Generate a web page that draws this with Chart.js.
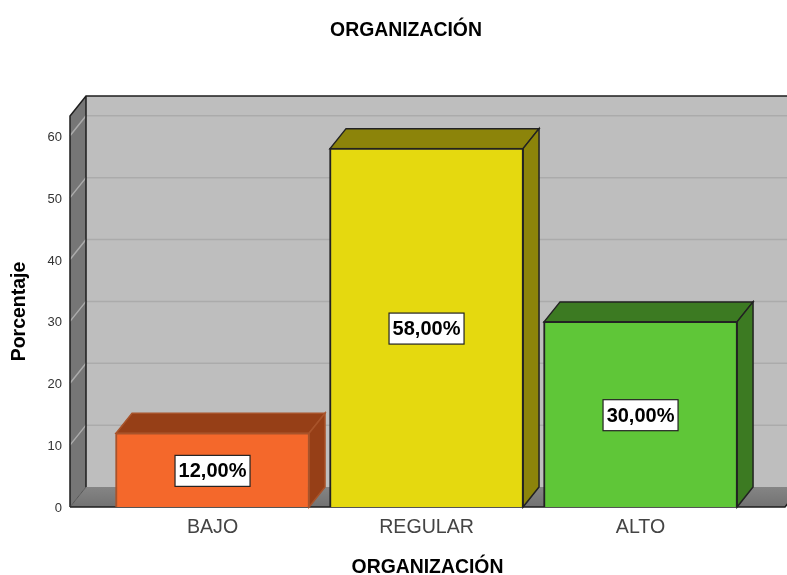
<!DOCTYPE html>
<html><head><meta charset="utf-8">
<style>html,body{margin:0;padding:0;background:#fff}canvas{display:block}</style>
<script src="https://cdn.jsdelivr.net/npm/chart.js@4"></script>
</head><body><canvas id="c" width="787" height="575"></canvas>
<script>
const categories = ['BAJO', 'REGULAR', 'ALTO'];
const percentages = [12, 58, 30];
const frontColors = ['#F4682B', '#E5D90F', '#5FC638'];
const shadeColors = ['#963F17', '#8C840A', '#3C7A22'];
const edgeColors = ['#A8532A', '#222222', '#222222'];
const yTicks = [0, 10, 20, 30, 40, 50, 60];
const chartTitle = 'ORGANIZACIÓN';
const yTitle = 'Porcentaje';
const DX = 16, DY = 20;
const FONT = '"Liberation Sans", Arial, sans-serif';

function poly(ctx, pts, fill, stroke, lw) {
  ctx.beginPath();
  pts.forEach((p, i) => i ? ctx.lineTo(p[0], p[1]) : ctx.moveTo(p[0], p[1]));
  ctx.closePath();
  if (fill) { ctx.fillStyle = fill; ctx.fill(); }
  if (stroke) { ctx.strokeStyle = stroke; ctx.lineWidth = lw || 1.5; ctx.stroke(); }
}

const frame3d = {
  id: 'frame3d',
  afterLayout(chart) {
    chart.titleBlock.left += 13.5;
    chart.titleBlock.right += 13.5;
  },
  beforeDatasetsDraw(chart) {
    const { ctx, chartArea: a, scales: { y } } = chart;
    ctx.save();
    const l = a.left, r = a.right, t = a.top, b = a.bottom;
    poly(ctx, [[l + DX, t - DY], [r + DX, t - DY], [r + DX, b - DY], [l + DX, b - DY]], '#BEBEBE');
    poly(ctx, [[l, t], [l + DX, t - DY], [l + DX, b - DY], [l, b]], '#767676');
    const f = ctx.createLinearGradient(0, b - DY, 0, b);
    f.addColorStop(0, '#858585'); f.addColorStop(1, '#727272');
    poly(ctx, [[l, b], [l + DX, b - DY], [r + DX, b - DY], [r, b]], f);
    yTicks.slice(1).forEach(v => {
      const py = y.getPixelForValue(v);
      ctx.strokeStyle = '#ABABAB'; ctx.lineWidth = 1.5;
      ctx.beginPath(); ctx.moveTo(l, py); ctx.lineTo(l + DX, py - DY); ctx.lineTo(r + DX, py - DY); ctx.stroke();
    });
    ctx.strokeStyle = '#1E1E1E'; ctx.lineWidth = 1.5;
    ctx.beginPath();
    ctx.moveTo(l, b); ctx.lineTo(l, t); ctx.lineTo(l + DX, t - DY); ctx.lineTo(r + DX, t - DY);
    ctx.moveTo(l + DX, t - DY); ctx.lineTo(l + DX, b - DY);
    ctx.stroke();
    ctx.strokeStyle = '#555'; ctx.lineWidth = 1;
    ctx.beginPath(); ctx.moveTo(l, b); ctx.lineTo(l + DX, b - DY); ctx.stroke();
    ctx.strokeStyle = '#1E1E1E'; ctx.lineWidth = 1.5;
    ctx.beginPath(); ctx.moveTo(l, b); ctx.lineTo(r, b); ctx.lineTo(r + DX, b - DY); ctx.stroke();
    const meta = chart.getDatasetMeta(0);
    meta.data.forEach((bar, i) => {
      const x0 = bar.x - bar.width / 2 + 0.5, x1 = bar.x + bar.width / 2 - 0.5, top = bar.y + 0.5, base = bar.base;
      poly(ctx, [[x0, top], [x0 + DX, top - DY], [x1 + DX, top - DY], [x1, top]], shadeColors[i], edgeColors[i], 1.5);
      poly(ctx, [[x1, top], [x1 + DX, top - DY], [x1 + DX, base - DY], [x1, base]], shadeColors[i], edgeColors[i], 1.5);
    });
    ctx.restore();
  },
  afterDatasetsDraw(chart) {
    const { ctx } = chart;
    ctx.save();
    ctx.font = 'bold 20px ' + FONT;
    ctx.textAlign = 'center'; ctx.textBaseline = 'middle';
    chart.getDatasetMeta(0).data.forEach((bar, i) => {
      const txt = percentages[i].toFixed(2).replace('.', ',') + '%';
      const cx = bar.x, cy = (bar.y + bar.base) / 2 + 1;
      const w = 75, h = 31;
      ctx.fillStyle = '#fff'; ctx.fillRect(cx - w / 2, cy - h / 2, w, h);
      ctx.strokeStyle = '#222'; ctx.lineWidth = 1.2; ctx.strokeRect(cx - w / 2, cy - h / 2, w, h);
      ctx.fillStyle = '#000'; ctx.fillText(txt, cx, cy + 1);
    });
    ctx.restore();
  }
};

new Chart(document.getElementById('c'), {
  type: 'bar',
  data: {
    datasets: [{
      data: categories.map((c, i) => ({ x: i, y: percentages[i] })),
      backgroundColor: frontColors,
      borderColor: edgeColors,
      borderWidth: 2,
      barThickness: 194
    }]
  },
  plugins: [frame3d],
  options: {
    responsive: false,
    animation: false,
    layout: { padding: { left: 0, top: 0, bottom: 0, right: 2 } },
    plugins: {
      legend: { display: false },
      tooltip: { enabled: false },
      title: {
        display: true, text: chartTitle, color: '#000',
        font: { family: FONT, size: 19.4, weight: 'bold', lineHeight: 1.2 },
        padding: { top: 19, bottom: 73.7 }
      }
    },
    scales: {
      x: {
        type: 'linear', offset: false, min: -0.666, max: 2.675,
        grid: { display: false, offset: false }, border: { display: false },
        afterFit(s) { s.height = 68; },
        ticks: {
          stepSize: 1, includeBounds: false, maxRotation: 0, autoSkip: false,
          padding: 1, color: '#444',
          font: { family: FONT, size: 19.6 },
          callback: v => categories[v]
        },
        title: {
          display: true, text: chartTitle, color: '#000',
          font: { family: FONT, size: 19.4, weight: 'bold' },
          padding: { top: 0, bottom: -4 }
        }
      },
      y: {
        min: 0, max: 63.2,
        grid: { display: false, drawTicks: false }, border: { display: false },
        afterFit(s) { s.width = 70; },
        ticks: {
          stepSize: 10, includeBounds: false, padding: 8, color: '#333', labelOffset: 1.5,
          font: { family: FONT, size: 13 }
        },
        title: {
          display: true, text: yTitle, color: '#000',
          font: { family: FONT, size: 19.5, weight: 'bold' },
          padding: { top: 8, bottom: 0 }
        }
      }
    }
  }
});
</script></body></html>
